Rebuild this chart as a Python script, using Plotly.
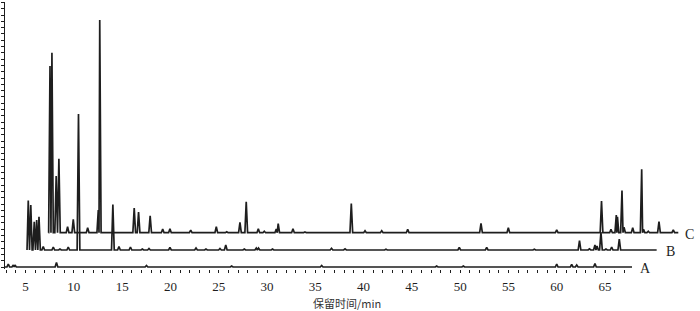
import plotly.graph_objects as go

# ---- data (retention time in min, peak height in px-units) ----
trace_names = ["A", "B", "C"]

a_start, a_end, a_base = 2.87, 67.8, 0
a_times = [3.21, 3.73, 3.9, 8.2, 17.52, 26.34, 35.66, 47.57, 50.33, 60.0, 61.55, 62.07, 63.96]
a_heights = [3, 2, 2, 4.5, 1.5, 1, 1.5, 1, 1, 3, 2.5, 2, 3.5]

b_start, b_end, b_base = 5.15, 70.35, 17
b_times = [5.28, 5.54, 5.9, 6.15, 6.39, 6.83, 7.87, 8.56, 9.42, 10.48, 14.04, 14.67, 15.86,
           17.09, 17.78, 19.95, 22.65, 23.68, 25.13, 25.73, 27.65, 28.89, 29.12, 30.57,
           36.68, 38.08, 42.32, 49.91, 52.75, 57.68, 62.36, 63.39, 63.96, 64.17, 64.58,
           65.1, 65.69, 66.48]
b_heights = [49.5, 45, 28.3, 30, 33.3, 3.5, 3, 1, 3, 136, 45.5, 3.5, 3,
             1, 1.5, 2.5, 2, 1, 1.5, 5, 1, 2, 2, 1,
             1.7, 1.2, 0.8, 2.5, 2.5, 0.8, 9.5, 1.2, 5, 4, 18,
             1, 3, 11]

c_start, c_end, c_base = 7.37, 72.59, 34.3
c_times = [7.53, 7.73, 8.17, 8.45, 9.35, 9.94, 11.43, 12.53, 12.68, 16.25, 16.7, 17.9,
           19.2, 19.95, 22.1, 24.75, 25.83, 27.2, 27.85, 29.1, 29.72, 30.96, 31.16,
           32.69, 33.93, 38.73, 40.15, 41.88, 44.57, 52.16, 54.99, 60.0, 64.64, 65.62,
           66.17, 66.29, 66.76, 66.97, 67.87, 68.8, 68.99, 69.48, 70.59, 72.07]
c_heights = [166.7, 180, 56.7, 74, 6, 13.4, 5, 22.7, 212.7, 24.7, 20.7, 17,
             3.7, 4, 2.5, 6, 1, 10.4, 31, 4, 1.5, 3.7, 9,
             4, 0.8, 29.2, 2, 2, 3.4, 9.4, 5, 2.7, 31.7, 3.4,
             17.7, 16, 42.2, 5.4, 5, 63.4, 3.5, 1.5, 11, 2.7]

tick_values = [5, 10, 15, 20, 25, 30, 35, 40, 45, 50, 55, 60, 65]
tick_labels = ["5", "10", "15", "20", "25", "30", "35", "40", "45", "50", "55", "60", "65"]
minor_tick_values = list(range(3, 68))
x_title = "保留时间/min"


def build(start, end, base, times, heights, w=0.14):
    xs, ys = [start], [base]
    n = len(times)
    for i, (t, h) in enumerate(zip(times, heights)):
        left, right = t - w, t + w
        if i > 0:
            left = max(left, (times[i - 1] + t) / 2)
        if i < n - 1:
            right = min(right, (t + times[i + 1]) / 2)
        xs += [left, t, right]
        ys += [base, base + h, base]
    xs.append(end)
    ys.append(base)
    return xs, ys


ink = "#1e1e1e"
fig = go.Figure()
for (s, e, b, ts, hs) in [(a_start, a_end, a_base, a_times, a_heights),
                          (b_start, b_end, b_base, b_times, b_heights),
                          (c_start, c_end, c_base, c_times, c_heights)]:
    xs, ys = build(s, e, b, ts, hs)
    fig.add_trace(go.Scatter(x=xs, y=ys, mode="lines",
                             line=dict(color=ink, width=1.7), hoverinfo="skip"))

label_pos = {"A": (69.24, -1.3), "B": (71.78, 16), "C": (73.7, 32.5)}
for name in trace_names:
    lx, ly = label_pos[name]
    fig.add_annotation(x=lx, y=ly, text=name, showarrow=False, xanchor="center",
                       yanchor="middle", font=dict(family="Liberation Serif", size=14, color=ink))

# plot area: px 2..269 (267 px); title centre at px y=303
fig.add_annotation(x=0.4957, y=(269 - 303) / 267, xref="paper", yref="paper", text=x_title,
                   showarrow=False, xanchor="center", yanchor="middle",
                   font=dict(family="Noto Sans CJK SC", size=11, color="#333"))

fig.update_layout(
    width=700, height=311,
    margin=dict(l=5, r=5, t=2, b=42),
    paper_bgcolor="white", plot_bgcolor="white",
    showlegend=False,
    xaxis=dict(range=[2.87, 74.32], showline=False, showgrid=False, zeroline=False,
               tickmode="array", tickvals=tick_values, ticktext=tick_labels,
               ticks="outside", ticklen=3, tickwidth=1, tickcolor=ink,
               tickfont=dict(family="Liberation Serif", size=13, color=ink),
               ticklabelstandoff=2,
               minor=dict(tickmode="array", tickvals=minor_tick_values, ticks="outside",
                          ticklen=3, tickwidth=1, tickcolor=ink, showgrid=False)),
    yaxis=dict(range=[-2, 265], showline=True, linecolor=ink, linewidth=1.3,
               showgrid=False, zeroline=False, showticklabels=False,
               ticks="outside", ticklen=3, tickwidth=1, tickcolor=ink,
               tick0=0, dtick=6.3),
)

fig.write_html("out.html", config={"displayModeBar": False},
               post_script="document.body.style.margin='0';document.body.style.overflow='hidden';")
